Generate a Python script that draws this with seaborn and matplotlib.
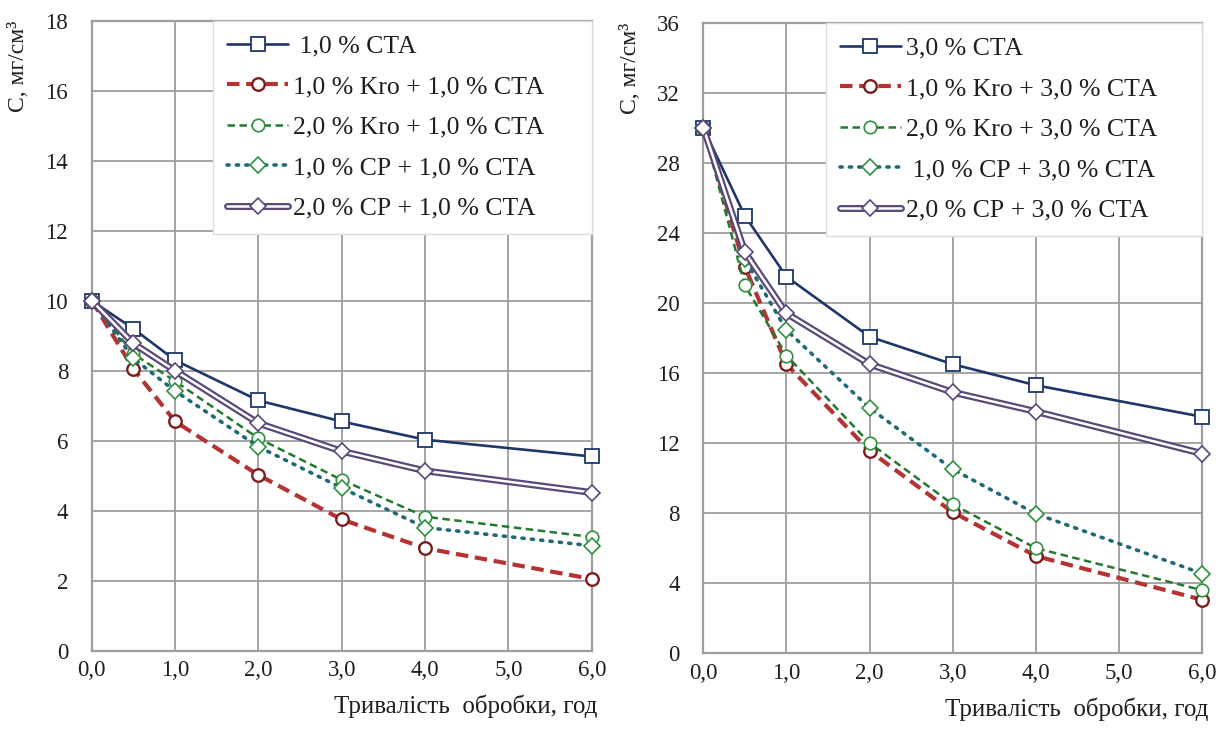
import matplotlib
matplotlib.use("Agg")
import matplotlib.pyplot as plt
import matplotlib.patheffects as pe
from matplotlib.lines import Line2D
from matplotlib.legend_handler import HandlerTuple
import seaborn as sns

# Treatment duration, h
hours = [0.0, 0.5, 1.0, 2.0, 3.0, 4.0, 6.0]

# Left panel: 1.0 % CTA series, concentration mg/cm3
left_labels = [" 1,0 % СТА", "1,0 % Kro + 1,0 % СТА", "2,0 % Kro + 1,0 % СТА",
               "1,0 % СР + 1,0 % СТА", "2,0 % СР + 1,0 % СТА"]
left_cta = [10.0, 9.2, 8.3, 7.15, 6.55, 6.03, 5.55]
left_kro1 = [10.0, 8.05, 6.55, 5.02, 3.75, 2.93, 2.05]
left_kro2 = [10.0, 8.48, 7.7, 6.07, 4.88, 3.83, 3.25]
left_cp1 = [10.0, 8.35, 7.42, 5.83, 4.65, 3.52, 3.0]
left_cp2 = [10.0, 8.78, 8.0, 6.5, 5.7, 5.14, 4.52]

# Right panel: 3.0 % CTA series, concentration mg/cm3
right_labels = ["3,0 % СТА", "1,0 % Kro + 3,0 % СТА", "2,0 % Kro + 3,0 % СТА",
                " 1,0 % СР + 3,0 % СТА", "2,0 % СР + 3,0 % СТА"]
right_cta = [30.0, 24.97, 21.5, 18.07, 16.5, 15.3, 13.5]
right_kro1 = [30.0, 22.05, 16.5, 11.55, 8.05, 5.55, 3.05]
right_kro2 = [30.0, 21.0, 17.0, 12.0, 8.5, 6.0, 3.6]
right_cp1 = [30.0, 22.5, 18.45, 14.0, 10.5, 7.96, 4.55]
right_cp2 = [30.0, 22.9, 19.4, 16.5, 14.9, 13.8, 11.4]

x_tick_labels = ["0,0", "1,0", "2,0", "3,0", "4,0", "5,0", "6,0"]
y_label = "С, мг/см³"
x_label = "Тривалість  обробки, год"

sns.set_theme(style="white")
plt.rcParams["font.family"] = ["Liberation Serif", "DejaVu Serif"]

NAVY = "#1f3768"
RED = "#b43434"
RED_EDGE = "#7a1e1e"
GREEN = "#25782f"
GREEN_EDGE = "#2f9140"
TEAL = "#1f6a76"
PURPLE = "#5a4878"
GRID = "#9e9e9e"
TEXT = "#1e1e1e"

styles = [
    dict(color=NAVY, ls="-", lw=1.9, marker="s", ms=9.5, mec=NAVY, mew=1.3),
    dict(color=RED, ls=(0, (3.0, 1.6)), lw=3.0, marker="o", ms=9, mec=RED_EDGE, mew=1.7),
    dict(color=GREEN, ls=(0, (3.0, 1.8)), lw=1.8, marker="o", ms=9, mec=GREEN_EDGE, mew=1.2),
    dict(color=TEAL, ls=(0, (0.6, 2.0)), lw=2.6, marker="D", ms=8, mec=GREEN_EDGE, mew=1.2),
]
double_style = dict(outer=PURPLE, outer_lw=5.0, inner_lw=1.8, marker="D", ms=8.5, mec=PURPLE, mew=1.2)


def draw_panel(ax, series, labels, ymax, ystep, legend_x0):
    handles = []
    for vals, st in zip(series[:4], styles):
        sns.lineplot(x=hours, y=vals, ax=ax, color=st["color"], linewidth=st["lw"],
                     marker=st["marker"], markersize=st["ms"], markerfacecolor="white",
                     markeredgecolor=st["mec"], markeredgewidth=st["mew"],
                     clip_on=False, zorder=3)
        line = ax.lines[-1]
        line.set_linestyle(st["ls"])
        line.set_dash_capstyle("round" if st["marker"] == "D" else "butt")
        handles.append(Line2D([], [], color=st["color"], lw=st["lw"], ls=st["ls"],
                              dash_capstyle=line.get_dash_capstyle(),
                              marker=st["marker"], ms=st["ms"], mfc="white",
                              mec=st["mec"], mew=st["mew"]))
    # double (outlined) line for the last series
    d = double_style
    stroke = [pe.Stroke(linewidth=d["outer_lw"], foreground=d["outer"]), pe.Normal()]
    sns.lineplot(x=hours, y=series[4], ax=ax, color="white", linewidth=d["inner_lw"],
                 clip_on=False, zorder=3)
    ax.lines[-1].set_path_effects(stroke)
    ax.lines[-1].set_solid_capstyle("round")
    sns.lineplot(x=hours, y=series[4], ax=ax, color=d["outer"], linestyle="",
                 marker=d["marker"], markersize=d["ms"], markerfacecolor="white",
                 markeredgecolor=d["mec"], markeredgewidth=d["mew"],
                 clip_on=False, zorder=3.5)
    h_line = Line2D([], [], color="white", lw=d["inner_lw"], path_effects=stroke,
                    solid_capstyle="round")
    h_mark = Line2D([], [], ls="", marker=d["marker"], ms=d["ms"], mfc="white",
                    mec=d["mec"], mew=d["mew"])
    handles.append((h_line, h_mark))

    ax.set_xlim(0, 6)
    ax.set_ylim(0, ymax)
    ax.set_xticks(range(7))
    ax.set_xticklabels(x_tick_labels)
    yt = list(range(0, ymax + 1, ystep))
    ax.set_yticks(yt)
    ax.set_yticklabels([str(v) for v in yt])
    ax.tick_params(axis="both", length=0, labelsize=16.5, colors=TEXT)
    ax.tick_params(axis="x", pad=7)
    ax.tick_params(axis="y", pad=17)
    ax.grid(True, color=GRID, lw=1.3)
    ax.set_axisbelow(True)
    for sp in ax.spines.values():
        sp.set_visible(True)
        sp.set_color(GRID)
        sp.set_linewidth(1.6)

    ax.set_ylabel(y_label, fontsize=17, color=TEXT, loc="top")
    ax.yaxis.set_label_coords(-0.125, 1.0)
    ax.set_xlabel(x_label, fontsize=18, color=TEXT, loc="right")
    ax.xaxis.set_label_coords(1.012, -0.07)

    leg = ax.legend(handles, labels, loc="upper left",
                    bbox_to_anchor=(legend_x0, 0.0, 1.0 - legend_x0, 1.0), mode="expand",
                    borderaxespad=0.0, fontsize=18.5, frameon=True, fancybox=False,
                    handlelength=2.35, handletextpad=0.2, labelspacing=0.68,
                    borderpad=0.55, handler_map={tuple: HandlerTuple(ndivide=1)})
    frame = leg.get_frame()
    frame.set_facecolor("white")
    frame.set_edgecolor("#dcdcdc")
    frame.set_linewidth(1.0)
    frame.set_alpha(1.0)
    for t in leg.get_texts():
        t.set_color(TEXT)


fig = plt.figure(figsize=(12.3, 7.49), dpi=100)
ax_left = fig.add_axes([0.0746, 0.1312, 0.4065, 0.8411])
ax_right = fig.add_axes([0.5718, 0.1278, 0.4057, 0.8419])

draw_panel(ax_left, [left_cta, left_kro1, left_kro2, left_cp1, left_cp2],
           left_labels, 18, 2, 0.243)
draw_panel(ax_right, [right_cta, right_kro1, right_kro2, right_cp1, right_cp2],
           right_labels, 36, 4, 0.246)

fig.savefig("out.png", dpi=100, facecolor="white")
